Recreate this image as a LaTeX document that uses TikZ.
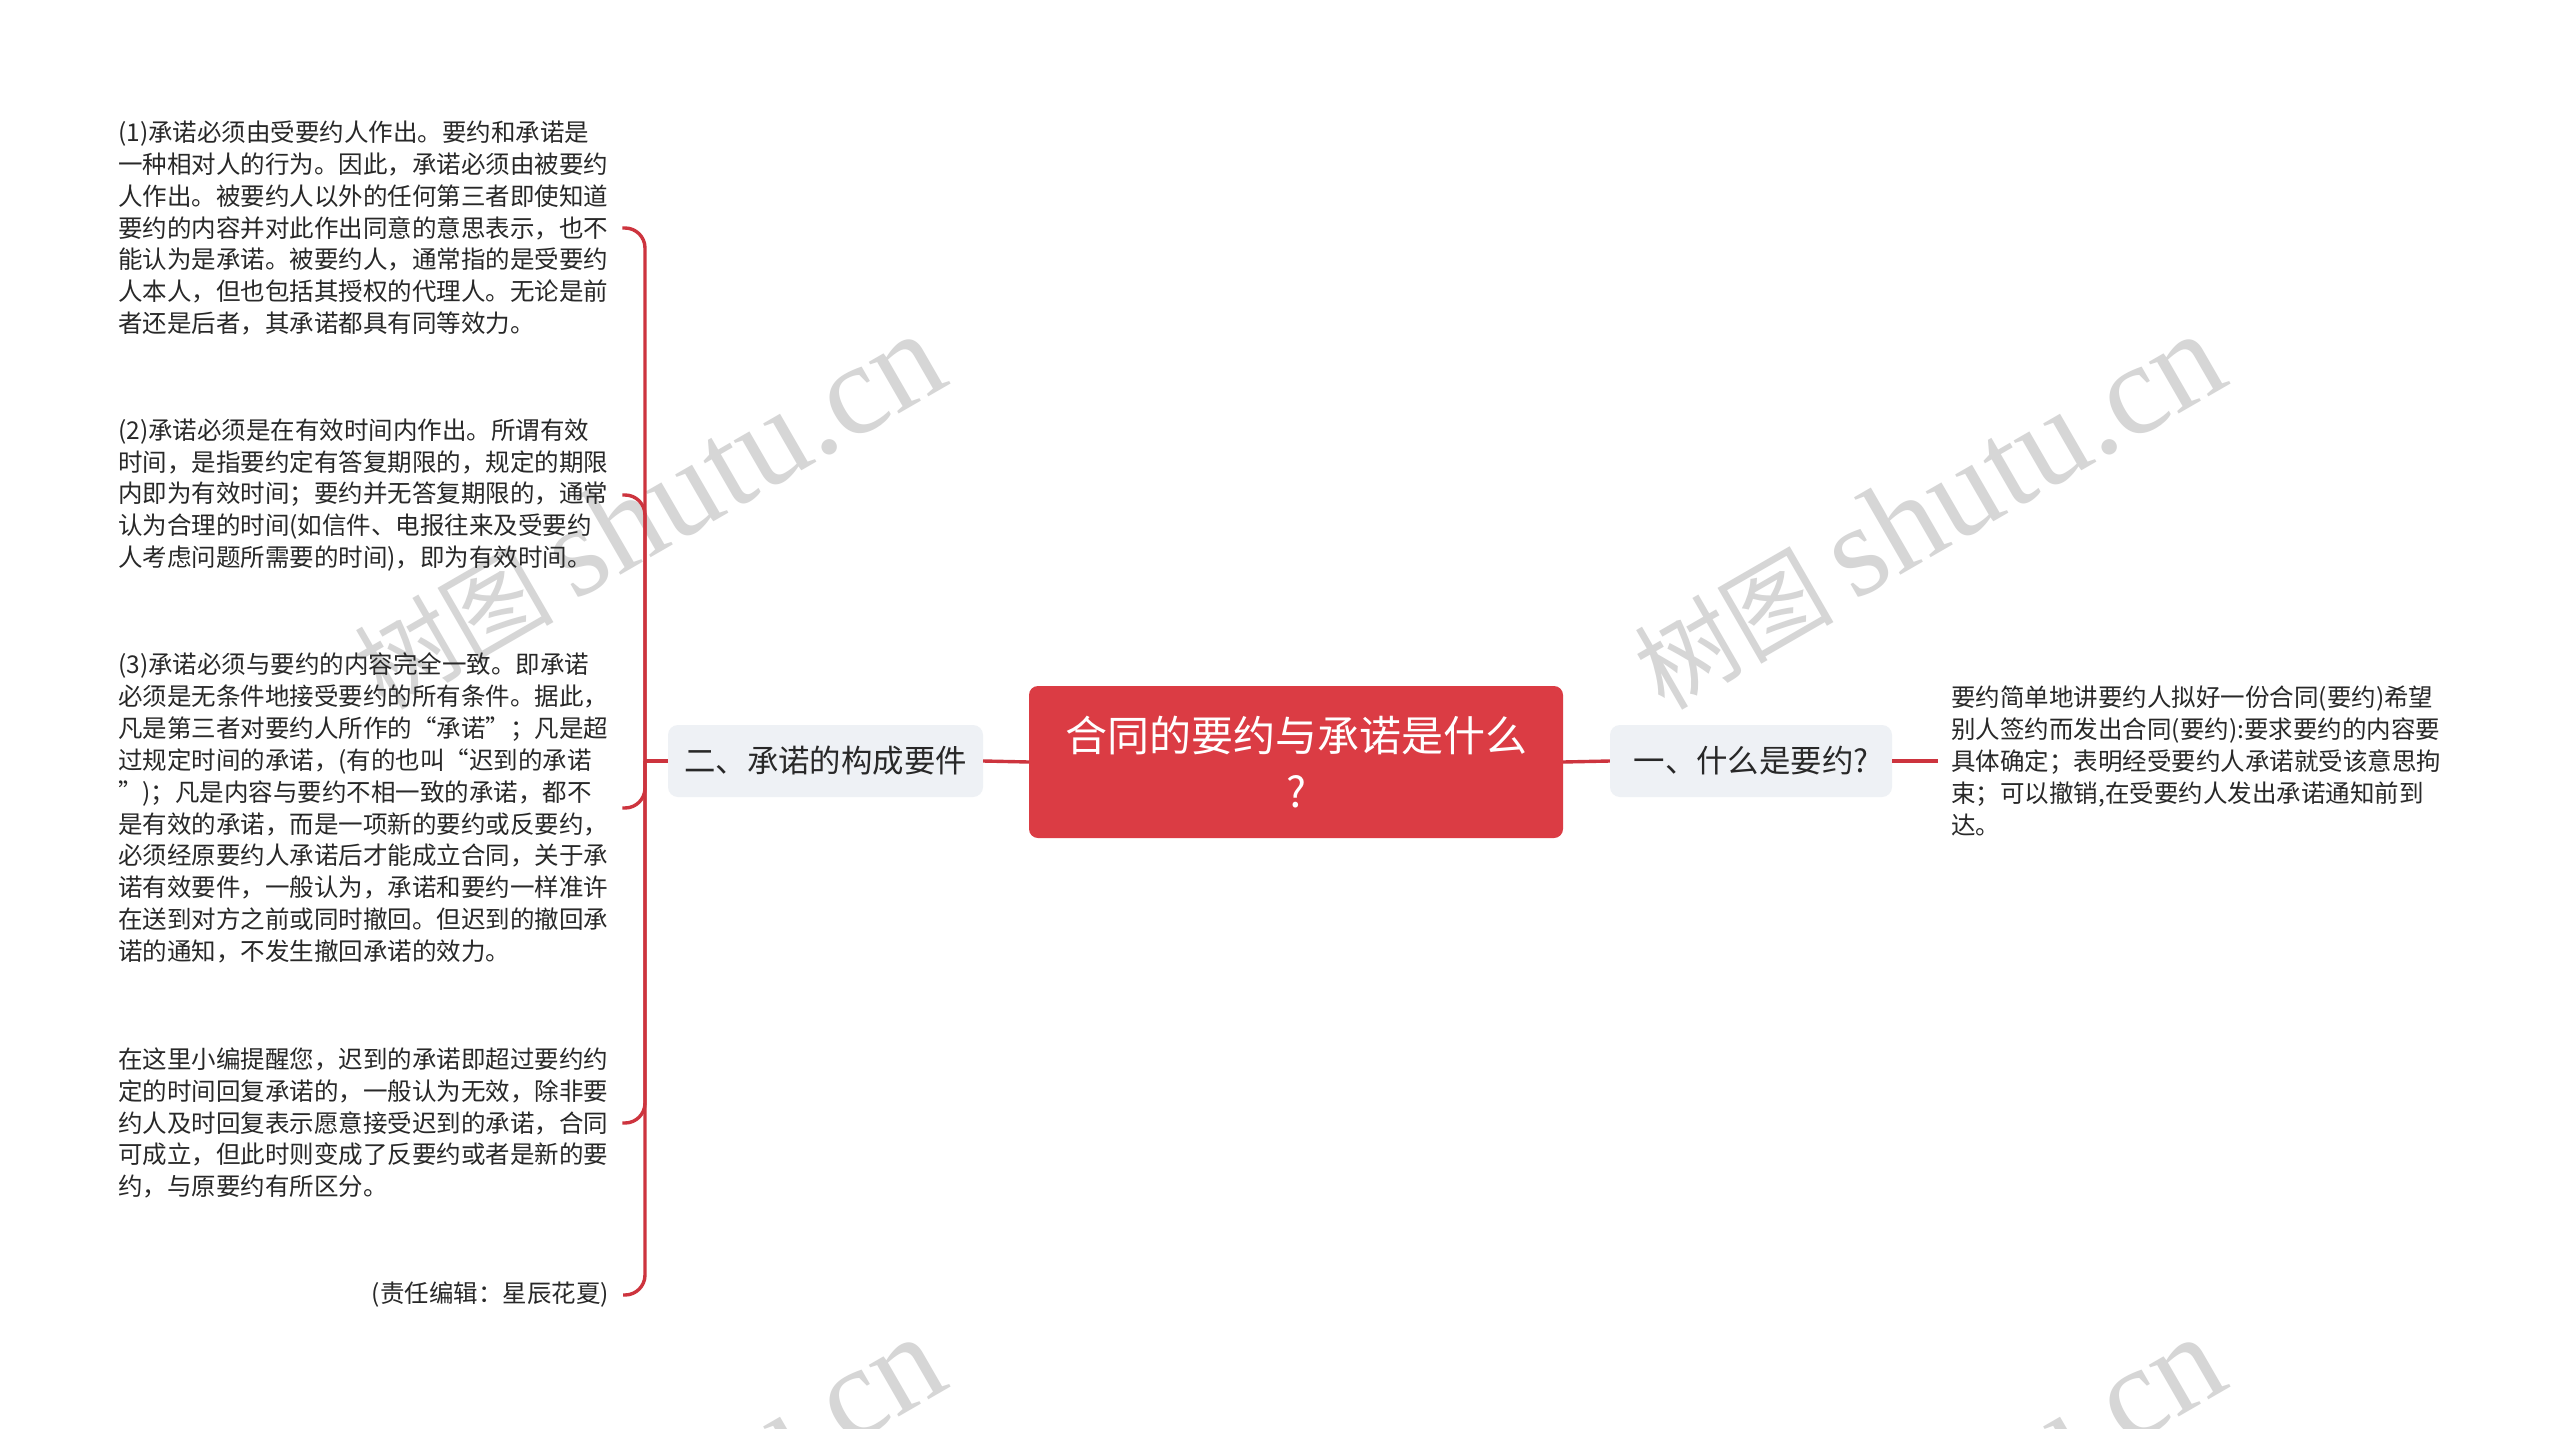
\documentclass[tikz,border=0pt]{standalone}
\usepackage{fontspec}
\setmainfont{Noto Sans CJK SC}
\newfontfamily\wmlatin{Liberation Serif}
\definecolor{mainred}{RGB}{219,60,68}
\definecolor{linered}{RGB}{205,52,62}
\definecolor{nodegrey}{RGB}{238,241,245}
\definecolor{txt}{RGB}{40,40,40}
\definecolor{wmgrey}{RGB}{214,214,214}
\tikzset{
  conn/.style={draw=linered, line width=3.4pt},
  centerbox/.style={fill=mainred, rounded corners=9pt, minimum width=534pt, minimum height=152pt,
    text=white, align=center, inner sep=0pt, font=\fontsize{42}{56}\selectfont},
  subbox/.style={fill=nodegrey, rounded corners=10pt, minimum height=72pt, inner sep=0pt,
    text=txt, font=\fontsize{31.4}{38}\selectfont},
  leaf/.style={inner xsep=14pt, inner ysep=0pt, text=txt, align=left,
    font=\fontsize{24.5}{31.85}\selectfont},
  wm/.style={text=wmgrey, inner sep=0pt}
}
\newcommand{\wmtext}{{\fontsize{100}{100}\selectfont 树图}\hspace{20pt}{\wmlatin\fontsize{130}{130}\selectfont shutu.cn}}
\begin{document}
\begin{tikzpicture}[x=1pt,y=-1pt]
\useasboundingbox (0,0) rectangle (2560,1429);
\clip (0,0) rectangle (2560,1429);
\fill[white] (0,0) rectangle (2560,1429);
% watermarks
\node[wm, rotate=30] (w1) at (648,512) {\wmtext};
\node[wm, rotate=30] (w2) at (1928,512) {\wmtext};
\node[wm, rotate=30] (w3) at (648,1515) {\wmtext};
\node[wm, rotate=30] (w4) at (1928,1515) {\wmtext};
% main nodes
\node[centerbox] (c) at (1296,762) {合同的要约与承诺是什么\\?};
\node[subbox, minimum width=315pt] (l) at (825.5,761) {二、承诺的构成要件};
\node[subbox, minimum width=282pt] (r) at (1751,761) {一、什么是要约?};
% right leaf
\node[leaf, inner xsep=13pt, anchor=west] (rt) at (1938,761) {要约简单地讲要约人拟好一份合同(要约)希望\\别人签约而发出合同(要约):要求要约的内容要\\具体确定；表明经受要约人承诺就受该意思拘\\束；可以撤销,在受要约人发出承诺通知前到\\达。};
% left leaves
\node[leaf, anchor=west] (b1) at (104,228) {(1)承诺必须由受要约人作出。要约和承诺是\\一种相对人的行为。因此，承诺必须由被要约\\人作出。被要约人以外的任何第三者即使知道\\要约的内容并对此作出同意的意思表示，也不\\能认为是承诺。被要约人，通常指的是受要约\\人本人，但也包括其授权的代理人。无论是前\\者还是后者，其承诺都具有同等效力。};
\node[leaf, anchor=west] (b2) at (104,495) {(2)承诺必须是在有效时间内作出。所谓有效\\时间，是指要约定有答复期限的，规定的期限\\内即为有效时间；要约并无答复期限的，通常\\认为合理的时间(如信件、电报往来及受要约\\人考虑问题所需要的时间)，即为有效时间。};
\node[leaf, anchor=west] (b3) at (104,808) {(3)承诺必须与要约的内容完全一致。即承诺\\必须是无条件地接受要约的所有条件。据此，\\凡是第三者对要约人所作的“承诺”；凡是超\\过规定时间的承诺，(有的也叫“迟到的承诺\\”)；凡是内容与要约不相一致的承诺，都不\\是有效的承诺，而是一项新的要约或反要约，\\必须经原要约人承诺后才能成立合同，关于承\\诺有效要件，一般认为，承诺和要约一样准许\\在送到对方之前或同时撤回。但迟到的撤回承\\诺的通知，不发生撤回承诺的效力。};
\node[leaf, anchor=west] (b4) at (104,1123) {在这里小编提醒您，迟到的承诺即超过要约约\\定的时间回复承诺的，一般认为无效，除非要\\约人及时回复表示愿意接受迟到的承诺，合同\\可成立，但此时则变成了反要约或者是新的要\\约，与原要约有所区分。};
\node[leaf, anchor=east] (b5) at (623,1295) {(责任编辑：星辰花夏)};
% connectors
\coordinate (hub) at (645,761);
\draw[conn] (c.west) -- (l.east);
\draw[conn] (c.east) -- (r.west);
\draw[conn] (r.east) -- (rt.west);
\draw[conn] (l.west) -- (hub);
\foreach \b in {b1,b2,b3,b4,b5}
  \draw[conn, rounded corners=20pt] (hub) |- (\b.east);
\end{tikzpicture}
\end{document}
